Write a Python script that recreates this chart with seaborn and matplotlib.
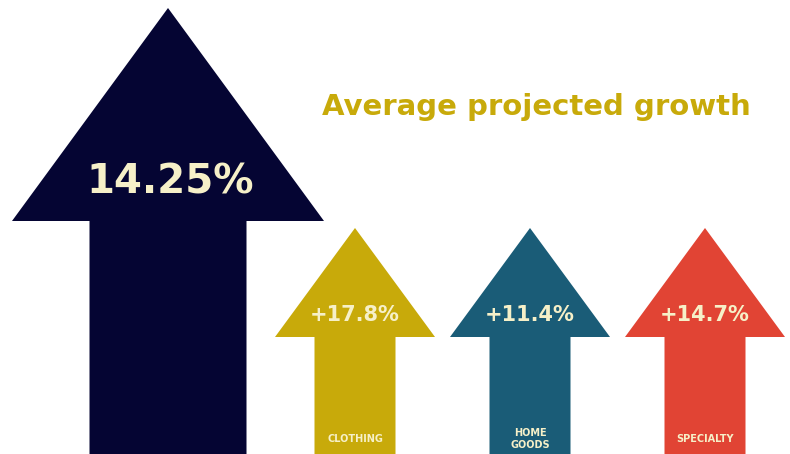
import matplotlib
matplotlib.use("Agg")
import matplotlib.pyplot as plt
from matplotlib.patches import Polygon
import seaborn as sns

# Data
categories = ["CLOTHING", "HOME\nGOODS", "SPECIALTY"]
growth = [17.8, 11.4, 14.7]
average_growth = 14.25
colors = ["#C8AA0A", "#1A5C77", "#E14434"]
avg_color = "#050533"
text_color = "#F6F0C8"
title_color = "#C8AA0A"

sns.set_theme(style="white")
plt.rcParams["font.family"] = ["DejaVu Sans"]

W, H = 790, 454
fig = plt.figure(figsize=(W / 100, H / 100), dpi=100)
ax = fig.add_axes([0, 0, 1, 1])
ax.set_xlim(0, W)
ax.set_ylim(0, H)
ax.axis("off")


def arrow(ax, cx, tip, base, head_hw, shaft_hw, color):
    pts = [
        (cx, tip),
        (cx + head_hw, base),
        (cx + shaft_hw, base),
        (cx + shaft_hw, 0),
        (cx - shaft_hw, 0),
        (cx - shaft_hw, base),
        (cx - head_hw, base),
    ]
    ax.add_patch(Polygon(pts, closed=True, facecolor=color, edgecolor="none"))


# Big average arrow
arrow(ax, 168, 446, 233, 156, 78.5, avg_color)
ax.text(170, 271, f"{average_growth:.2f}%", color=text_color, fontsize=29,
        fontweight="bold", ha="center", va="center")

# Category arrows
for i, (cat, val, col) in enumerate(zip(categories, growth, colors)):
    cx = 355 + i * 175
    arrow(ax, cx, 226, 117, 80, 40.5, col)
    ax.text(cx, 139, f"+{val:.1f}%", color=text_color, fontsize=15,
            fontweight="bold", ha="center", va="center")
    ax.text(cx, 15, cat, color=text_color, fontsize=7, fontweight="bold",
            ha="center", va="center", linespacing=1.3)

ax.text(536, 347, "Average projected growth", color=title_color, fontsize=21,
        fontweight="bold", ha="center", va="center")

fig.savefig("out.png", dpi=100)
